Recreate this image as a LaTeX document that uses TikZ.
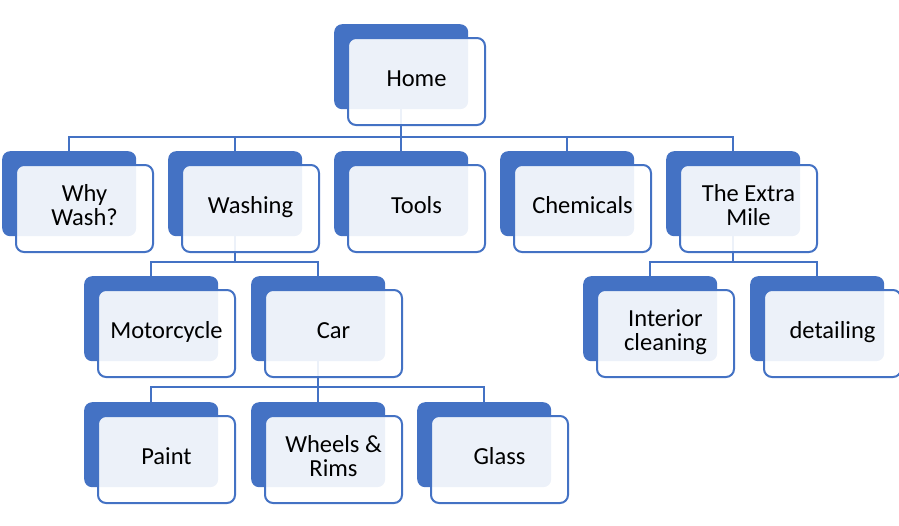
\documentclass[tikz,border=0pt]{standalone}
\usepackage{fontspec}
\setmainfont{Carlito}
\definecolor{blueA}{HTML}{4472C4}
\pgfdeclarelayer{bg}
\pgfsetlayers{bg,main}
\tikzset{
  backbox/.style={draw=none, fill=blueA, rounded corners=8pt, minimum width=134pt, minimum height=85pt, anchor=north west, inner sep=0pt},
  frontbox/.style={draw=blueA, line width=2pt, fill=white, fill opacity=0.9, text opacity=1, rounded corners=8pt, minimum width=137pt, minimum height=87pt, anchor=north west, inner sep=0pt, align=center, text=black, font=\fontsize{24.5}{24}\selectfont},
  conn/.style={draw=blueA, line width=2pt}
}
\newcommand\unitbox[4]{%
  \node[backbox] (#1) at (#2,#3) {};
  \node[frontbox] (#1F) at (#2+13,#3+13) {\raisebox{1.5pt}{\begin{tabular}{@{}c@{}}#4\end{tabular}}};
}
\begin{document}
\begin{tikzpicture}[x=1pt,y=-1pt]
\useasboundingbox (0,0) rectangle (899,525);
\unitbox{home}{334}{24}{Home}
\unitbox{why}{2}{151}{Why\\Wash?}
\unitbox{washing}{168}{151}{Washing}
\unitbox{tools}{334}{151}{Tools}
\unitbox{chem}{500}{151}{Chemicals}
\unitbox{extra}{666}{151}{The Extra\\Mile}
\unitbox{moto}{84}{276}{Motorcycle}
\unitbox{car}{251}{276}{Car}
\unitbox{interior}{583}{276}{Interior\\cleaning}
\unitbox{detail}{750}{276}{detailing}
\unitbox{paint}{84}{402}{Paint}
\unitbox{wheels}{251}{402}{Wheels \&\\Rims}
\unitbox{glass}{417}{402}{Glass}
\begin{pgfonlayer}{bg}
\foreach \c in {why,washing,tools,chem,extra}
  \draw[conn] (home.south) -- ++(0,28) -| (\c.north);
\foreach \c in {moto,car}
  \draw[conn] (washing.south) -- ++(0,26) -| (\c.north);
\foreach \c in {interior,detail}
  \draw[conn] (extra.south) -- ++(0,26) -| (\c.north);
\foreach \c in {paint,wheels,glass}
  \draw[conn] (car.south) -- ++(0,26) -| (\c.north);
\end{pgfonlayer}
\end{tikzpicture}
\end{document}
